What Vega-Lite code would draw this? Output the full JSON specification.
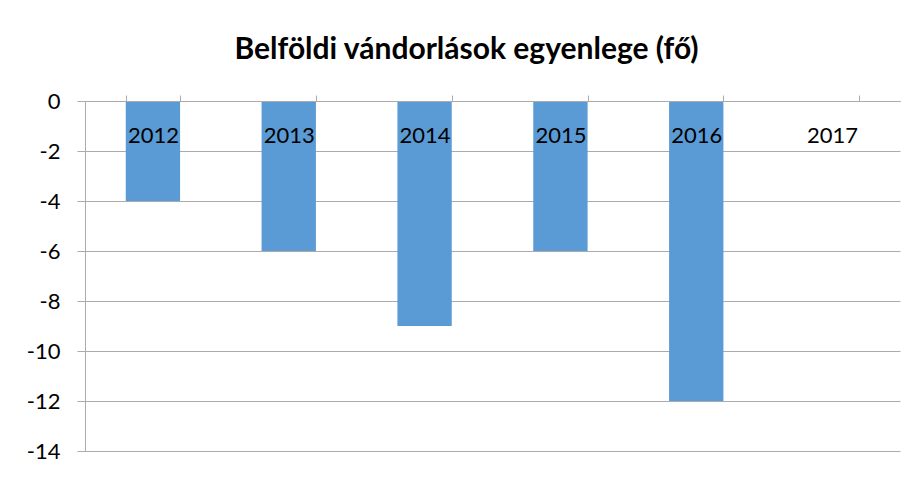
{
  "$schema": "https://vega.github.io/schema/vega-lite/v6.json",
  "width": 815,
  "height": 350,
  "autosize": {"type": "none"},
  "padding": {"left": 85, "top": 101, "right": 17, "bottom": 26},
  "background": "white",
  "title": {
    "text": "Belföldi vándorlások egyenlege (fő)",
    "font": "Lato",
    "fontSize": 30,
    "fontWeight": "bold",
    "color": "#000000",
    "anchor": "middle",
    "dx": -26,
    "offset": 25
  },
  "data": {
    "values": [
      {"year": "2012", "value": -4},
      {"year": "2013", "value": -6},
      {"year": "2014", "value": -9},
      {"year": "2015", "value": -6},
      {"year": "2016", "value": -12},
      {"year": "2017", "value": 0}
    ]
  },
  "mark": {"type": "bar", "color": "#5B9BD5"},
  "encoding": {
    "x": {
      "field": "year",
      "type": "nominal",
      "sort": null,
      "scale": {"paddingInner": 0.6, "paddingOuter": 0.3},
      "axis": {
        "orient": "top",
        "title": null,
        "tickBand": "extent",
        "tickSize": 6,
        "tickColor": "#ABABAB",
        "domainColor": "#ABABAB",
        "labelFont": "Lato",
        "labelFontSize": 22,
        "labelColor": "#000000",
        "labelAngle": 0,
        "labelBaseline": "middle",
        "labelPadding": -40,
        "zindex": 1
      }
    },
    "y": {
      "field": "value",
      "type": "quantitative",
      "scale": {"domain": [-14, 0], "nice": false},
      "axis": {
        "title": null,
        "values": [0, -2, -4, -6, -8, -10, -12, -14],
        "labelExpr": "'' + datum.value",
        "tickSize": 8,
        "tickColor": "#ABABAB",
        "domainColor": "#ABABAB",
        "gridColor": "#ABABAB",
        "grid": true,
        "labelFont": "Lato",
        "labelFontSize": 22,
        "labelColor": "#000000",
        "labelPadding": 17
      }
    }
  },
  "config": {"view": {"stroke": null}}
}
